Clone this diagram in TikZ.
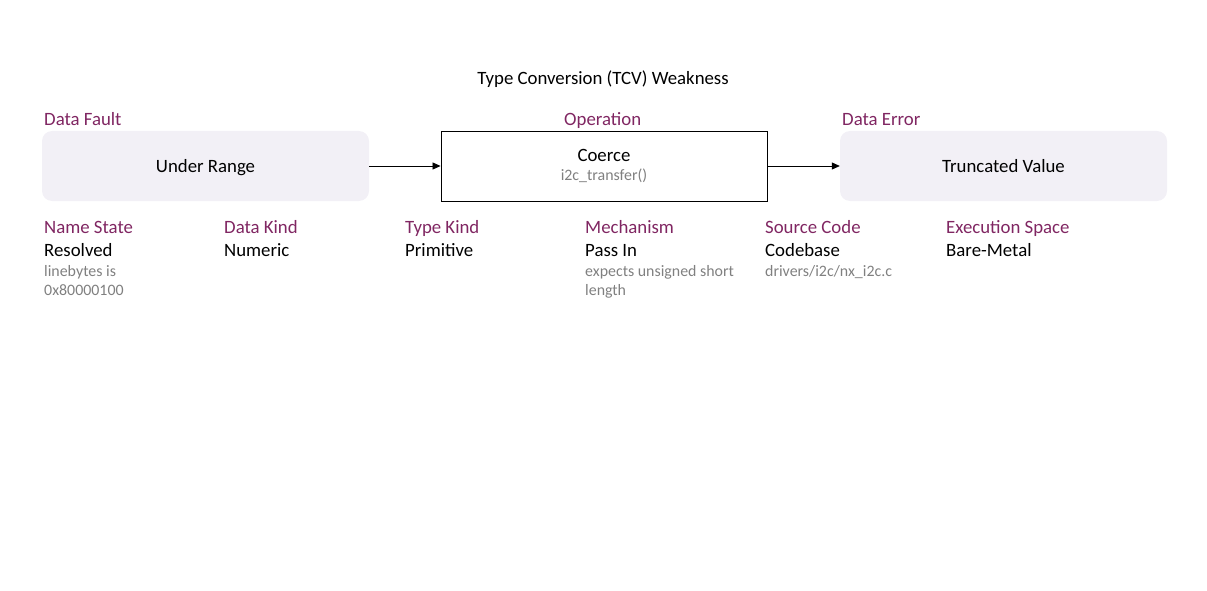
\documentclass[tikz,border=0pt]{standalone}
\usepackage{fontspec}
\setmainfont{Carlito}
\usetikzlibrary{arrows,
	arrows.meta,
	positioning}
\definecolor{tagpurple}{RGB}{128,38,98}
\definecolor{notegray}{RGB}{128,128,128}
\definecolor{boxfill}{RGB}{242,240,246}
\begin{document}
\begin{tikzpicture}[x=1pt,y=-1pt]
    \tikzstyle{tag}=[anchor=base west,inner sep=0pt,text=tagpurple,font=\fontsize{18.8}{22}\selectfont]
    \tikzstyle{val}=[anchor=base west,inner sep=0pt,text=black,font=\fontsize{18.8}{22}\selectfont]
    \tikzstyle{note}=[anchor=base west,inner sep=0pt,text=notegray,font=\fontsize{15.9}{19}\selectfont,align=left]
    \tikzstyle{state}=[rectangle,rounded corners=10pt,fill=boxfill,minimum width=327pt,minimum height=70pt,text height=13pt,text depth=1pt,font=\fontsize{18.8}{22}\selectfont]
    \tikzstyle{action}=[rectangle,draw=black,line width=0.9pt,fill=white,minimum width=326pt,minimum height=70pt,align=center,font=\fontsize{18.8}{20}\selectfont]
    \tikzstyle{flow}=[-{Triangle[length=8pt,width=7pt]},line width=0.8pt]
    \useasboundingbox (0,0) rectangle (1207,591);
    \node[anchor=base,inner sep=0pt,font=\fontsize{18.8}{22}\selectfont] (title) at (603,85) {Type Conversion (TCV) Weakness};
    % the three boxes
    \node[state] (fault) at (205.5,166) {Under Range};
    \node[action] (op) at (604,166) {Coerce\\[-1pt]{\color{notegray}\fontsize{15.9}{19}\selectfont i2c\_transfer()}};
    \node[state] (err) at (1003.5,166) {Truncated Value};
    \node[tag] (fault_t) at (44,126) {Data Fault};
    \node[tag] (op_t) at (564,126) {Operation};
    \node[tag] (err_t) at (842,126) {Data Error};
    \draw[flow] (fault) -- (op);
    \draw[flow] (op) -- (err);
    % attributes
    \node[tag] (name_t) at (44,233) {Name State};
    \node[val] (name_v) at (44,256) {Resolved};
    \node[note] (name_n) at (44,295) {linebytes is\\0x80000100};
    \node[tag] (kind_t) at (224,233) {Data Kind};
    \node[val] (kind_v) at (224,256) {Numeric};
    \node[tag] (type_t) at (405,233) {Type Kind};
    \node[val] (type_v) at (405,256) {Primitive};
    \node[tag] (mech_t) at (585,233) {Mechanism};
    \node[val] (mech_v) at (585,256) {Pass In};
    \node[note] (mech_n) at (585,295) {expects unsigned short\\length};
    \node[tag] (src_t) at (765,233) {Source Code};
    \node[val] (src_v) at (765,256) {Codebase};
    \node[note] (src_n) at (765,276) {drivers/i2c/nx\_i2c.c};
    \node[tag] (exec_t) at (946,233) {Execution Space};
    \node[val] (exec_v) at (946,256) {Bare-Metal};
  \end{tikzpicture}
\end{document}
